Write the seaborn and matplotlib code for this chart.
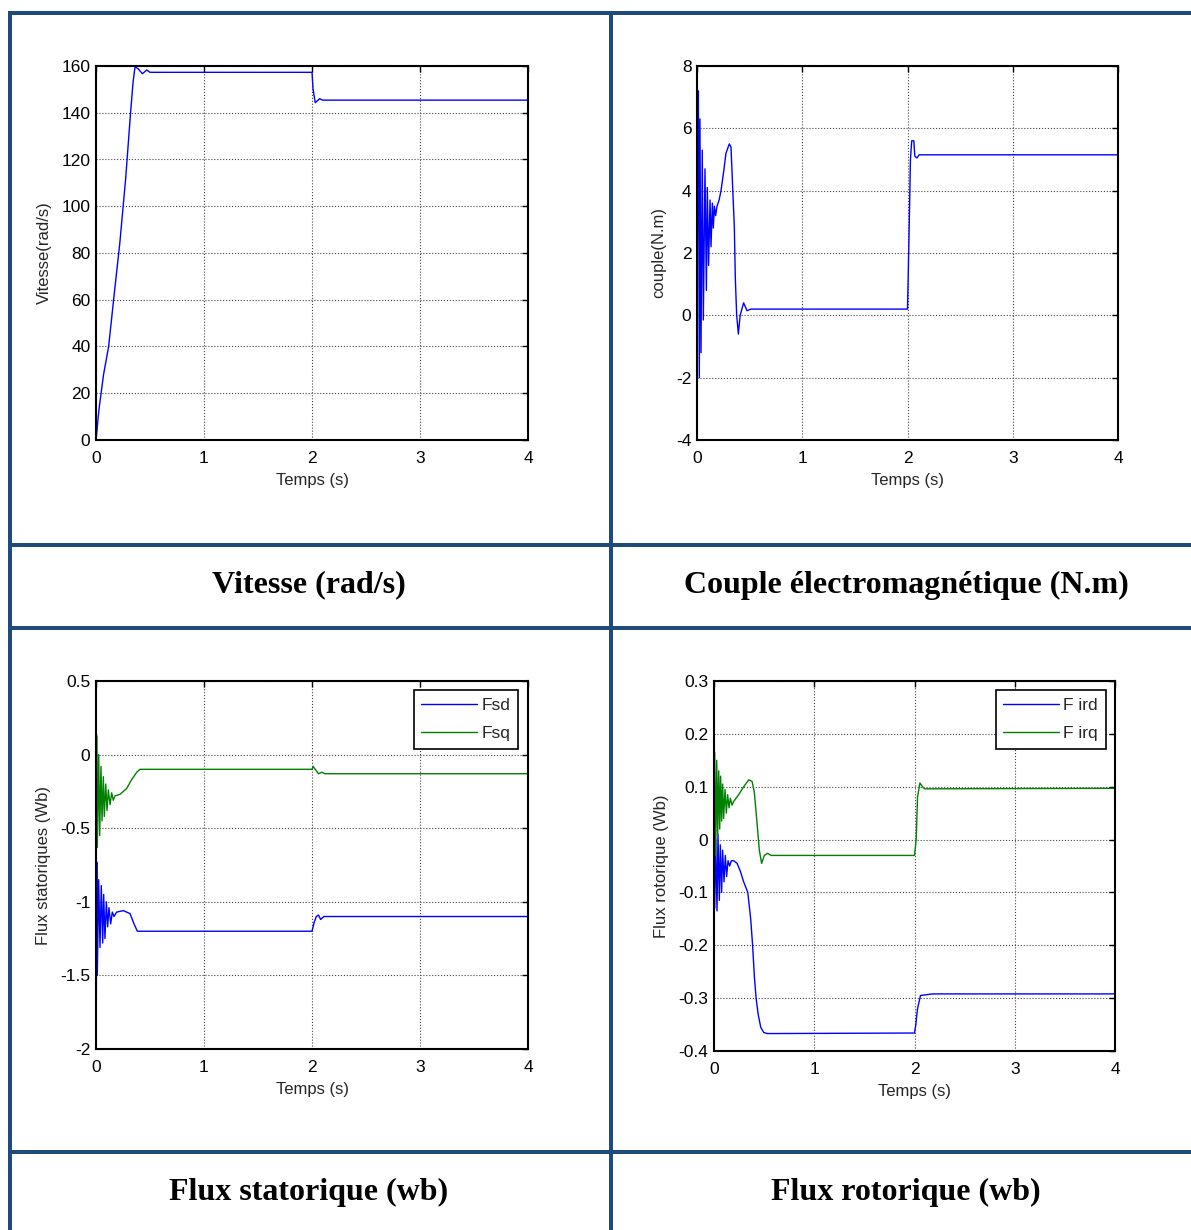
import matplotlib
matplotlib.use("Agg")
import matplotlib.pyplot as plt
from matplotlib.lines import Line2D
import pandas as pd
import seaborn as sns

sns.set_style("white")
plt.rcParams["font.family"] = ["Liberation Sans", "DejaVu Sans"]
plt.rcParams["axes.unicode_minus"] = False

# ---- data -------------------------------------------------------------
# Vitesse (rad/s)
t_vit = [0, 0.005, 0.018, 0.03, 0.05, 0.07, 0.117, 0.17, 0.22, 0.275, 0.32,
         0.344, 0.362, 0.39, 0.43, 0.47, 0.5, 2.0, 2.01, 2.03, 2.07, 2.1, 4.0]
w_vit = [0, 2, 8.7, 14, 21, 28, 40, 63, 84, 112, 140,
         153.5, 159.7, 158.8, 156.7, 158.3, 157.3, 157.3, 150, 144.3, 146.0, 145.4, 145.4]

# Couple electromagnetique (N.m)
t_cem = [0, 0.004, 0.013, 0.022, 0.028, 0.038, 0.05, 0.06, 0.076, 0.089, 0.098,
         0.11, 0.124, 0.133, 0.146, 0.155, 0.165, 0.177, 0.19, 0.21, 0.228, 0.253,
         0.275, 0.307, 0.323, 0.339, 0.355, 0.364, 0.377, 0.393, 0.41, 0.443, 0.475,
         0.513, 2.0, 2.007, 2.018, 2.028, 2.04, 2.06, 2.07, 2.09, 2.11, 4.0]
c_em = [0, 3, 7.2, -2.0, 6.3, -1.2, 5.3, -0.15, 4.7, 0.8, 4.1,
        1.6, 3.7, 2.2, 3.6, 2.8, 3.5, 3.2, 3.5, 3.7, 4.0, 4.6,
        5.2, 5.5, 5.4, 4.1, 2.8, 1.2, 0.0, -0.6, 0.0, 0.4, 0.15,
        0.2, 0.2, 1.3, 3.2, 5.0, 5.6, 5.6, 5.1, 5.05, 5.15, 5.15]

# Flux statoriques (Wb)
t_fsd = [0, 0.003, 0.007, 0.012, 0.025, 0.037, 0.049, 0.062, 0.071, 0.083, 0.096,
         0.108, 0.12, 0.136, 0.151, 0.167, 0.191, 0.253, 0.315, 0.352, 0.383, 0.407,
         2.0, 2.02, 2.04, 2.06, 2.08, 2.11, 4.0]
fsd = [-1.0, -1.62, -0.73, -1.5, -0.85, -1.31, -0.89, -1.28, -0.95, -1.25, -1.0,
       -1.17, -1.04, -1.15, -1.07, -1.1, -1.07, -1.06, -1.08, -1.15, -1.2, -1.2,
       -1.2, -1.14, -1.1, -1.09, -1.12, -1.1, -1.1]
t_fsq = [0, 0.006, 0.012, 0.025, 0.034, 0.046, 0.056, 0.068, 0.077, 0.09, 0.102,
         0.114, 0.13, 0.145, 0.16, 0.176, 0.222, 0.284, 0.33, 0.377, 0.407,
         2.0, 2.01, 2.03, 2.06, 2.09, 2.12, 4.0]
fsq = [-0.7, 0.13, -0.63, 0.0, -0.55, -0.08, -0.45, -0.15, -0.42, -0.2, -0.38,
       -0.24, -0.34, -0.26, -0.31, -0.28, -0.27, -0.23, -0.17, -0.12, -0.1,
       -0.1, -0.08, -0.1, -0.13, -0.12, -0.13, -0.13]

# Flux rotorique (Wb)
t_ird = [0, 0.007, 0.017, 0.03, 0.04, 0.053, 0.063, 0.076, 0.086, 0.1, 0.113,
         0.126, 0.14, 0.156, 0.173, 0.196, 0.23, 0.263, 0.296, 0.337, 0.366, 0.385,
         0.403, 0.42, 0.44, 0.466, 0.496, 0.533, 2.0, 2.013, 2.03, 2.06, 2.1, 2.18, 4.0]
f_ird = [-0.03, -0.13, 0.0, -0.135, 0.01, -0.115, -0.01, -0.1, -0.02, -0.08, -0.03,
         -0.07, -0.04, -0.05, -0.04, -0.04, -0.045, -0.06, -0.08, -0.1, -0.15, -0.2,
         -0.26, -0.3, -0.33, -0.355, -0.365, -0.367, -0.366, -0.35, -0.32, -0.295,
         -0.294, -0.292, -0.292]
t_irq = [0, 0.007, 0.017, 0.027, 0.037, 0.047, 0.057, 0.066, 0.076, 0.086, 0.096,
         0.11, 0.123, 0.136, 0.15, 0.163, 0.18, 0.196, 0.246, 0.296, 0.346, 0.38,
         0.402, 0.43, 0.452, 0.475, 0.502, 0.535, 0.57, 2.0, 2.017, 2.03, 2.054,
         2.08, 2.1, 4.0]
f_irq = [-0.03, 0.165, -0.03, 0.15, 0.01, 0.13, 0.02, 0.12, 0.035, 0.105, 0.04,
         0.095, 0.05, 0.085, 0.06, 0.078, 0.065, 0.072, 0.085, 0.1, 0.113, 0.11,
         0.09, 0.03, -0.02, -0.045, -0.03, -0.026, -0.03, -0.03, 0.0, 0.08, 0.107,
         0.1, 0.096, 0.097]

x_ticks = [0, 1, 2, 3, 4]
x_labels = ["0", "1", "2", "3", "4"]
y_ticks_vit = [0, 20, 40, 60, 80, 100, 120, 140, 160]
y_ticks_cem = [-4, -2, 0, 2, 4, 6, 8]
y_ticks_fs = [-2, -1.5, -1, -0.5, 0, 0.5]
y_labels_fs = ["-2", "-1.5", "-1", "-0.5", "0", "0.5"]
y_ticks_fr = [-0.4, -0.3, -0.2, -0.1, 0, 0.1, 0.2, 0.3]
y_labels_fr = ["-0.4", "-0.3", "-0.2", "-0.1", "0", "0.1", "0.2", "0.3"]

captions = ["Vitesse (rad/s)", "Couple électromagnétique (N.m)",
            "Flux statorique (wb)", "Flux rotorique (wb)"]

# ---- figure -----------------------------------------------------------
W, H = 1191, 1230
fig = plt.figure(figsize=(W / 100, H / 100), dpi=100)
fig.patch.set_facecolor("white")

BLUE = "#0000FF"
GREEN = "#008000"
BORDER = "#1F4A7C"


def px_axes(left, right, top, bottom):
    return fig.add_axes([left / W, 1 - bottom / H, (right - left) / W, (bottom - top) / H])


def style(ax, xlim, ylim, yticks, ylabels, ylabel):
    ax.set_xlim(*xlim)
    ax.set_ylim(*ylim)
    ax.set_xticks(x_ticks)
    ax.set_xticklabels(x_labels)
    ax.set_yticks(yticks)
    ax.set_yticklabels(ylabels)
    ax.set_xlabel("Temps (s)", fontsize=12, labelpad=5)
    ax.set_ylabel(ylabel, fontsize=12, labelpad=7)
    ax.tick_params(direction="in", top=True, right=True, length=4, width=1,
                   labelsize=12.5, colors="black")
    ax.tick_params(axis="x", pad=8)
    ax.tick_params(axis="y", pad=4)
    ax.grid(True, linestyle=":", color="#444444", linewidth=0.8)
    for sp in ax.spines.values():
        sp.set_visible(True)
        sp.set_color("black")
        sp.set_linewidth(1.5)


def single(ax, t, y, color):
    df = pd.DataFrame({"t": t, "y": y})
    sns.lineplot(data=df, x="t", y="y", ax=ax, color=color, linewidth=1.0,
                 estimator=None, sort=False)


def pair(ax, t1, y1, n1, t2, y2, n2):
    df = pd.concat([pd.DataFrame({"t": t1, "y": y1, "s": n1}),
                    pd.DataFrame({"t": t2, "y": y2, "s": n2})], ignore_index=True)
    sns.lineplot(data=df, x="t", y="y", hue="s", ax=ax,
                 palette={n1: BLUE, n2: GREEN}, linewidth=1.0,
                 estimator=None, sort=False)
    handles, labels = ax.get_legend_handles_labels()
    leg = ax.legend(handles, labels, loc="upper right", bbox_to_anchor=(0.977, 0.975),
                    borderaxespad=0, fancybox=False, framealpha=1, edgecolor="black",
                    fontsize=12.5, handlelength=3.2, handletextpad=0.25,
                    borderpad=0.45, labelspacing=0.75)
    leg.get_frame().set_linewidth(1.2)


ax1 = px_axes(96, 528, 66, 440)
single(ax1, t_vit, w_vit, BLUE)
style(ax1, (0, 4), (0, 160), y_ticks_vit, [str(v) for v in y_ticks_vit], "Vitesse(rad/s)")

ax2 = px_axes(697, 1118, 66, 440)
single(ax2, t_cem, c_em, BLUE)
style(ax2, (0, 4), (-4, 8), y_ticks_cem, [str(v) for v in y_ticks_cem], "couple(N.m)")

ax3 = px_axes(96, 528, 681, 1049)
pair(ax3, t_fsd, fsd, "Fsd", t_fsq, fsq, "Fsq")
style(ax3, (0, 4), (-2, 0.5), y_ticks_fs, y_labels_fs, "Flux statoriques (Wb)")

ax4 = px_axes(714, 1115, 681, 1051)
pair(ax4, t_ird, f_ird, "F ird", t_irq, f_irq, "F irq")
style(ax4, (0, 4), (-0.4, 0.3), y_ticks_fr, y_labels_fr, "Flux rotorique (Wb)")

# ---- table frame ------------------------------------------------------
lw = 4 * 72 / 100


def hline(y, x0=8, x1=W):
    fig.add_artist(Line2D([x0 / W, x1 / W], [1 - y / H, 1 - y / H],
                          transform=fig.transFigure, color=BORDER, linewidth=lw,
                          solid_capstyle="butt"))


def vline(x, y0=11, y1=H):
    fig.add_artist(Line2D([x / W, x / W], [1 - y0 / H, 1 - y1 / H],
                          transform=fig.transFigure, color=BORDER, linewidth=lw,
                          solid_capstyle="butt"))


for y in (13, 545, 628, 1152):
    hline(y)
for x in (9.5, 611):
    vline(x)

cap_font = dict(family=["Liberation Serif", "DejaVu Serif"], fontweight="bold",
                fontsize=23, ha="center", va="center", color="black")
for (cx, cy), text in zip([(309, 585), (906, 585), (309, 1192), (906, 1192)], captions):
    fig.text(cx / W, 1 - cy / H, text, **cap_font)

fig.savefig("out.png", dpi=100, facecolor="white")
